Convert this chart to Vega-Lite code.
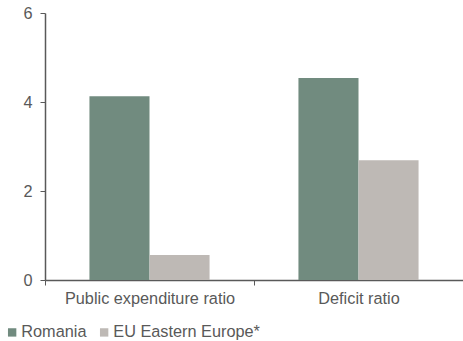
{
  "$schema": "https://vega.github.io/schema/vega-lite/v6.json",
  "autosize": {"type": "none"},
  "padding": {"left": 45, "top": 13, "right": 0, "bottom": 61},
  "width": 418,
  "height": 267,
  "background": "white",
  "config": {
    "view": {"stroke": null},
    "font": "Liberation Sans"
  },
  "data": {
    "values": [
      {"category": "Public expenditure ratio", "series": "Romania", "value": 4.13},
      {"category": "Public expenditure ratio", "series": "EU Eastern Europe*", "value": 0.56},
      {"category": "Deficit ratio", "series": "Romania", "value": 4.54},
      {"category": "Deficit ratio", "series": "EU Eastern Europe*", "value": 2.69}
    ]
  },
  "mark": {"type": "bar"},
  "encoding": {
    "x": {
      "field": "category",
      "type": "nominal",
      "sort": ["Public expenditure ratio", "Deficit ratio"],
      "scale": {"paddingInner": 0, "paddingOuter": 0},
      "axis": {
        "title": null,
        "labelAngle": 0,
        "tickBand": "extent",
        "domainColor": "#595959",
        "tickColor": "#595959",
        "domainWidth": 1.5,
        "tickSize": 5,
        "labelFontSize": 16.3,
        "labelColor": "#595959",
        "labelPadding": 5
      }
    },
    "xOffset": {
      "field": "series",
      "type": "nominal",
      "sort": ["Romania", "EU Eastern Europe*"],
      "scale": {"paddingInner": 0, "paddingOuter": 0.74}
    },
    "y": {
      "field": "value",
      "type": "quantitative",
      "scale": {"domain": [0, 6], "nice": false},
      "axis": {
        "title": null,
        "values": [0, 2, 4, 6],
        "grid": false,
        "domainColor": "#595959",
        "tickColor": "#595959",
        "domainWidth": 1.5,
        "tickSize": 5,
        "labelFontSize": 16.3,
        "labelColor": "#595959",
        "labelPadding": 8
      }
    },
    "color": {
      "field": "series",
      "type": "nominal",
      "sort": ["Romania", "EU Eastern Europe*"],
      "scale": {"domain": ["Romania", "EU Eastern Europe*"], "range": ["#718B7F", "#BEB9B5"]},
      "legend": {
        "title": null,
        "orient": "none",
        "direction": "horizontal",
        "legendX": -41,
        "legendY": 311,
        "symbolType": "square",
        "symbolSize": 70,
        "symbolStrokeWidth": 0,
        "labelFontSize": 16.3,
        "labelColor": "#595959",
        "labelOffset": 1,
        "columnPadding": 9
      }
    }
  }
}
